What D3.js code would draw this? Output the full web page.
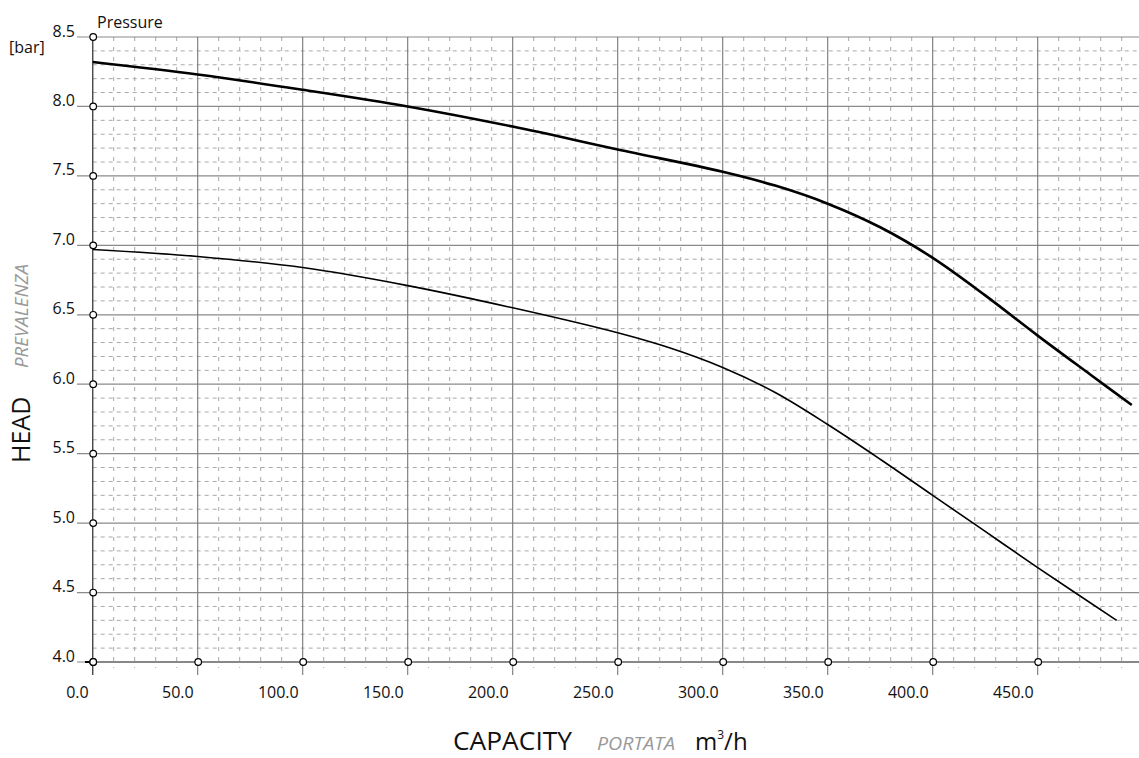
<!DOCTYPE html>
<html>
<head>
<meta charset="utf-8">
<script src="https://cdn.jsdelivr.net/npm/d3@7"></script>
<style>
  html, body { margin: 0; padding: 0; background: #fff; }
  svg { display: block; font-family: "Open Sans", sans-serif; }
</style>
</head>
<body>
<svg id="chart" width="1139" height="758"></svg>
<script>
// ---- data ----
const capacityA = [0, 50, 100, 150, 200, 250, 300, 325, 350, 375, 400, 425, 450, 475, 494.8];
const headA     = [8.32, 8.23, 8.12, 8.00, 7.855, 7.69, 7.53, 7.43, 7.30, 7.13, 6.91, 6.64, 6.35, 6.07, 5.85];
const capacityB = [0, 50, 100, 150, 200, 250, 275, 300, 325, 350, 375, 400, 425, 450, 487.6];
const headB     = [6.97, 6.92, 6.84, 6.71, 6.55, 6.37, 6.26, 6.12, 5.94, 5.71, 5.46, 5.20, 4.94, 4.68, 4.30];
const xTickValues = [0, 50, 100, 150, 200, 250, 300, 350, 400, 450];
const xTickLabels = ["0.0", "50.0", "100.0", "150.0", "200.0", "250.0", "300.0", "350.0", "400.0", "450.0"];
const yTickValues = [4.0, 4.5, 5.0, 5.5, 6.0, 6.5, 7.0, 7.5, 8.0, 8.5];
const yTickLabels = ["4.0", "4.5", "5.0", "5.5", "6.0", "6.5", "7.0", "7.5", "8.0", "8.5"];

const svg = d3.select("#chart");
const x = d3.scaleLinear().domain([0, 500]).range([92.7, 1142.7]);
const y = d3.scaleLinear().domain([4.0, 8.5]).range([662, 37]);
const xMax = 1139;

// minor grid
const minorX = d3.range(10, 500, 10).filter(v => v % 50 !== 0);
const minorY = d3.range(41, 85, 1).map(v => v / 10).filter(v => Math.round(v * 10) % 5 !== 0);

const g = svg.append("g");

g.selectAll(".minh").data(minorY).enter().append("line")
  .attr("x1", x(0)).attr("x2", xMax)
  .attr("y1", d => y(d)).attr("y2", d => y(d))
  .attr("stroke", "#a8a8a8").attr("stroke-width", 1).attr("stroke-dasharray", "4,4");

g.selectAll(".minv").data(minorX).enter().append("line")
  .attr("x1", d => x(d)).attr("x2", d => x(d))
  .attr("y1", y(8.5)).attr("y2", y(4.0) + 6)
  .attr("stroke", "#a8a8a8").attr("stroke-width", 1).attr("stroke-dasharray", "4,6");

// major grid
g.selectAll(".majh").data(yTickValues).enter().append("line")
  .attr("x1", 77).attr("x2", xMax)
  .attr("y1", d => y(d)).attr("y2", d => y(d))
  .attr("stroke", "#8a8a8a").attr("stroke-width", 1.2);

const majorXAll = d3.range(0, 501, 50);
g.selectAll(".majv").data(majorXAll).enter().append("line")
  .attr("x1", d => x(d)).attr("x2", d => x(d))
  .attr("y1", y(8.5)).attr("y2", y(4.0) + 13)
  .attr("stroke", "#777").attr("stroke-width", 1.1);

// x axis line
g.append("line").attr("x1", x(0)).attr("x2", xMax)
  .attr("y1", y(4.0)).attr("y2", y(4.0))
  .attr("stroke", "#888").attr("stroke-width", 2);
// y axis line
g.append("line").attr("x1", x(0)).attr("x2", x(0))
  .attr("y1", y(8.5)).attr("y2", y(4.0) + 13)
  .attr("stroke", "#444").attr("stroke-width", 1.2);
g.append("line").attr("x1", 85).attr("x2", x(0))
  .attr("y1", y(4.0)).attr("y2", y(4.0))
  .attr("stroke", "#000").attr("stroke-width", 2);

// curves
const line = d3.line().x(d => x(d[0])).y(d => y(d[1])).curve(d3.curveCatmullRom.alpha(0.5));
svg.append("path").datum(capacityA.map((c, i) => [c, headA[i]]))
  .attr("d", line).attr("fill", "none").attr("stroke", "#000").attr("stroke-width", 2.6);
svg.append("path").datum(capacityB.map((c, i) => [c, headB[i]]))
  .attr("d", line).attr("fill", "none").attr("stroke", "#000").attr("stroke-width", 1.6);

// circles
svg.selectAll(".cy").data(yTickValues).enter().append("circle")
  .attr("cx", x(0) + 0.5).attr("cy", d => y(d))
  .attr("r", 3.3).attr("fill", "#fff").attr("stroke", "#000").attr("stroke-width", 1.2);
svg.selectAll(".cx").data(xTickValues).enter().append("circle")
  .attr("cx", d => x(d) + 0.5).attr("cy", y(4.0))
  .attr("r", 3.3).attr("fill", "#fff").attr("stroke", "#000").attr("stroke-width", 1.2);

// tick labels
svg.selectAll(".yl").data(yTickValues).enter().append("text")
  .attr("x", 75).attr("y", d => y(d) - 0.5)
  .attr("text-anchor", "end").attr("font-size", 16).attr("fill", "#111")
  .text((d, i) => yTickLabels[i]);
svg.selectAll(".xl").data(xTickValues).enter().append("text")
  .attr("x", d => x(d) - 4).attr("y", 698)
  .attr("text-anchor", "end").attr("font-size", 16).attr("fill", "#111")
  .text((d, i) => xTickLabels[i]);

svg.append("text").attr("x", 97).attr("y", 27.5).attr("font-size", 16).attr("fill", "#111").text("Pressure");
svg.append("text").attr("x", 9).attr("y", 53).attr("font-size", 16).attr("fill", "#111").text("[bar]");

// axis titles
svg.append("text").attr("transform", "translate(30,463) rotate(-90)")
  .attr("font-size", 25).attr("fill", "#111").text("HEAD");
svg.append("text").attr("transform", "translate(28,368) rotate(-90)")
  .attr("font-size", 17.5).attr("font-style", "italic").attr("fill", "#999")
  .attr("textLength", 104).attr("lengthAdjust", "spacingAndGlyphs").text("PREVALENZA");

svg.append("text").attr("x", 453).attr("y", 750).attr("font-size", 25).attr("fill", "#111")
  .attr("textLength", 119).attr("lengthAdjust", "spacingAndGlyphs").text("CAPACITY");
svg.append("text").attr("x", 597).attr("y", 750).attr("font-size", 18).attr("font-style", "italic").attr("fill", "#999")
  .attr("textLength", 78).attr("lengthAdjust", "spacingAndGlyphs").text("PORTATA");
const unit = svg.append("text").attr("x", 695).attr("y", 750).attr("font-size", 24).attr("fill", "#111");
unit.append("tspan").text("m");
unit.append("tspan").attr("font-size", 12).attr("dy", -11).text("3");
unit.append("tspan").attr("dy", 11).text("/h");
</script>
</body>
</html>
